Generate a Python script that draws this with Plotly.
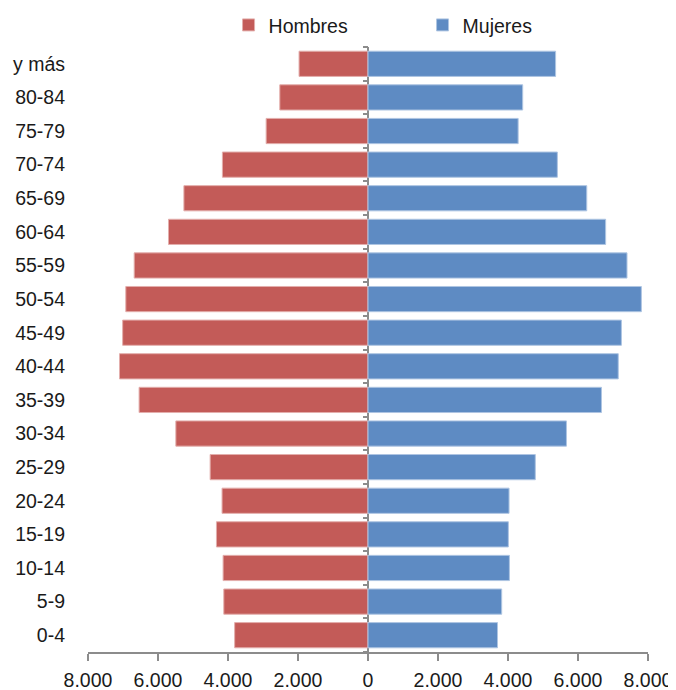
import plotly.graph_objects as go

categories = ["0-4", "5-9", "10-14", "15-19", "20-24", "25-29", "30-34", "35-39",
              "40-44", "45-49", "50-54", "55-59", "60-64", "65-69", "70-74",
              "75-79", "80-84", "y más"]
hombres = [3810, 4120, 4140, 4330, 4170, 4510, 5490, 6540,
           7100, 7010, 6920, 6680, 5700, 5260, 4160, 2910, 2520, 1970]
mujeres = [3700, 3820, 4040, 4010, 4030, 4780, 5670, 6670,
           7150, 7240, 7810, 7400, 6790, 6250, 5410, 4290, 4420, 5360]
x_ticks = [-8000, -6000, -4000, -2000, 0, 2000, 4000, 6000, 8000]
x_ticktext = ["8.000", "6.000", "4.000", "2.000", "0", "2.000", "4.000", "6.000", "8.000"]

FONT = "Liberation Sans, Arial, sans-serif"
FS = 19.5
RED = "#C35B58"
BLUE = "#5E8BC3"
GRAY = "#8c8c8c"

n = len(categories)
fig = go.Figure()
fig.add_trace(go.Bar(
    y=categories, x=[-v for v in hombres], orientation="h", name="Hombres",
    marker=dict(color=RED, line=dict(color="#E3AEAC", width=1)),
    customdata=hombres, hovertemplate="%{y}: %{customdata}<extra>Hombres</extra>",
))
fig.add_trace(go.Bar(
    y=categories, x=mujeres, orientation="h", name="Mujeres",
    marker=dict(color=BLUE, line=dict(color="#AEC5E2", width=1)),
    hovertemplate="%{y}: %{x}<extra>Mujeres</extra>",
))
# invisible trace to activate the central tick axis
fig.add_trace(go.Scatter(x=[None], y=[None], yaxis="y2", showlegend=False, hoverinfo="skip"))

# the page body adds an 8px offset, so the figure is sized 8px smaller
fig.update_layout(
    width=668, height=682,
    margin=dict(l=80, r=28, t=39, b=38, autoexpand=False),
    paper_bgcolor="white", plot_bgcolor="white",
    barmode="relative", bargap=0.25,
    font=dict(family=FONT, size=FS, color="#1a1a1a"),
    showlegend=True,
    legend=dict(orientation="h", x=0.251, xanchor="left", y=1.036, yanchor="middle",
                font=dict(size=FS), entrywidth=149, entrywidthmode="pixels",
                itemwidth=30, bgcolor="rgba(0,0,0,0)", traceorder="normal"),
    xaxis=dict(range=[-8000, 8000], tickvals=x_ticks, ticktext=x_ticktext,
               showgrid=False, zeroline=True, zerolinecolor=GRAY, zerolinewidth=1.5,
               showline=True, linecolor=GRAY, linewidth=1.5,
               ticks="outside", ticklen=7, tickcolor=GRAY, tickwidth=1.5,
               ticklabelstandoff=3, automargin=False, tickfont=dict(size=FS)),
    yaxis=dict(type="category", categoryorder="array", categoryarray=categories,
               range=[-0.5, n - 0.5], showgrid=False, showline=False, ticks="",
               ticklabelstandoff=22, automargin=False, tickfont=dict(size=FS)),
    yaxis2=dict(overlaying="y", anchor="free", position=0.5, side="left",
                range=[-0.5, n - 0.5], tickvals=[i - 0.5 for i in range(n + 1)],
                showticklabels=False, ticks="outside", ticklen=5, tickcolor=GRAY,
                tickwidth=1.5, showline=False, showgrid=False, zeroline=False),
)

fig.write_html("out.html")
